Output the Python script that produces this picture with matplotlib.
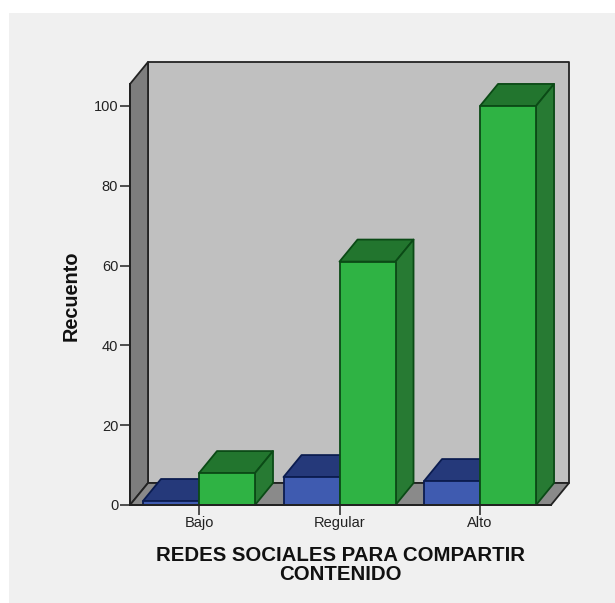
import matplotlib
matplotlib.use('Agg')
from matplotlib import pyplot as plt
from matplotlib.patches import Polygon, Rectangle

categorias = ['Bajo', 'Regular', 'Alto']
serie_azul = [1, 7, 6]
serie_verde = [8, 61, 100]
ticks_y = [0, 20, 40, 60, 80, 100]

W, H = 615, 603
plt.rcParams['font.family'] = ['Liberation Sans', 'DejaVu Sans']

fig = plt.figure(figsize=(W / 100, H / 100), dpi=100, facecolor='white')

# Fondo gris claro del visor, con margen blanco arriba y a la izquierda.
fig.add_artist(Rectangle((9 / W, 0), 1 - 9 / W, 1 - 13 / H, transform=fig.transFigure,
                         fc='#f0f0f0', ec='none', zorder=-1))

ax = fig.add_axes([130 / W, (H - 505) / H, 421 / W, 421 / H])
ax.patch.set_visible(False)
ax.set_xlim(-0.491, 2.505)
ax.set_ylim(0, 105.5)

# Profundidad de la caja en unidades de datos.
dx = 18 / 140.5
dy = 22 / 3.99
ancho = 56 / 140.5
x0, x1 = ax.get_xlim()
y1 = ax.get_ylim()[1]
borde = '#222222'


def cara(puntos, color, linea, z, lw=1.3):
    ax.add_patch(Polygon(puntos, closed=True, fc=color, ec=linea, lw=lw, zorder=z,
                         clip_on=False, joinstyle='round'))


# Paredes y suelo de la caja 3D.
cara([(x0 + dx, dy), (x1 + dx, dy), (x1 + dx, y1 + dy), (x0 + dx, y1 + dy)], '#c0c0c0', borde, 1)
cara([(x0, 0), (x0 + dx, dy), (x0 + dx, y1 + dy), (x0, y1)], '#7d7d7d', borde, 1.1)
cara([(x0, 0), (x1, 0), (x1 + dx, dy), (x0 + dx, dy)], '#8a8a8a', borde, 1.2)


def barra(xi, v, frente, tapa, lado, linea, z):
    izq, der = xi, xi + ancho
    cara([(izq, v), (izq + dx, v + dy), (der + dx, v + dy), (der, v)], tapa, linea, z)
    cara([(der, 0), (der + dx, dy), (der + dx, v + dy), (der, v)], lado, linea, z)
    cara([(izq, 0), (der, 0), (der, v), (izq, v)], frente, linea, z + 0.1)


for i in range(len(categorias)):
    barra(i - ancho, serie_azul[i], '#3f5bb0', '#25397a', '#25397a', '#0b1c50', 2 + i)
    barra(i, serie_verde[i], '#2fb344', '#22752e', '#277a33', '#0b4a16', 2.5 + i)

for lado in ['top', 'right']:
    ax.spines[lado].set_visible(False)
for lado in ['left', 'bottom']:
    ax.spines[lado].set_color(borde)
    ax.spines[lado].set_linewidth(1.4)
    ax.spines[lado].set_zorder(10)

ax.set_xticks(range(len(categorias)))
ax.set_xticklabels(categorias, fontsize=10.5, color='#222222')
ax.set_yticks(ticks_y)
ax.tick_params(axis='x', length=7, width=1.1, color=borde, pad=9)
ax.tick_params(axis='y', length=7.5, width=1.1, color=borde, pad=1, labelsize=10.5, labelcolor='#222222')
# Misma línea base para las tres etiquetas, tengan o no descendentes.
plt.setp(ax.get_xticklabels(), va='baseline')

ax.set_ylabel('Recuento', fontsize=14.3, fontweight='bold', color='#111111')
ax.yaxis.set_label_coords(-0.117, (505 - 295.5) / 421)
ax.set_xlabel('REDES SOCIALES PARA COMPARTIR\nCONTENIDO', fontsize=14.7, fontweight='bold',
              color='#111111', linespacing=1.02)
ax.xaxis.set_label_coords((340 - 130) / 421, -(584 - 505) / 421)
ax.xaxis.label.set_verticalalignment('bottom')

fig.savefig('out.png', dpi=100, facecolor=fig.get_facecolor())
